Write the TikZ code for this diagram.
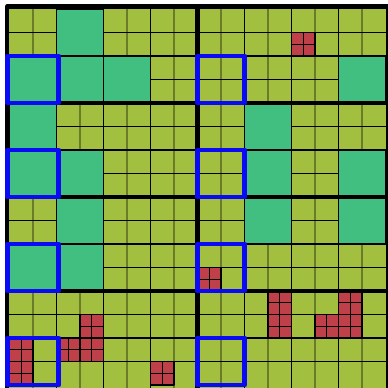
\documentclass[tikz,border=0pt]{standalone}
\usepackage{tikz}
\definecolor{grass}{RGB}{163,191,64}
\definecolor{lawn}{RGB}{64,191,128}
\definecolor{brick}{RGB}{191,64,72}
\definecolor{boxblue}{RGB}{10,10,245}

\begin{document}
\begin{tikzpicture}[x=0.5cm, y=0.5cm, line join=round,
    gridline/.style={black, line width=0.7pt},
    softline/.style={black, opacity=0.35, line width=1pt},
    panelrule/.style={black, line width=2.7pt},
    markbox/.style={boxblue, line width=3pt}]
  \useasboundingbox (-0.404,-0.085) rectangle (16.106,16.383);
  \fill[grass] (0,-0.2) rectangle (16,16);
  \foreach \x in {1,3,...,15} \draw[softline] (\x,-0.2) -- (\x,16);
  \foreach \y in {1,...,15} \draw[gridline] (0,\y) -- (16,\y);
  \foreach \x in {2,4,...,14} \draw[gridline] (\x,-0.2) -- (\x,16);
  % merged cells
  \foreach \x/\y in {2/14, 0/12, 2/12, 4/12, 14/12,
                     0/10, 0/8, 2/8, 10/10, 10/8, 14/8,
                     2/6, 0/4, 2/4, 10/6, 14/6}
    \filldraw[fill=lawn, draw=black, line width=0.7pt] (\x,\y) rectangle ++(2,2);
  % split cells
  \foreach \x/\y in {12/14, 8/4, 3/2, 2/1, 3/1, 0/1, 0/0, 6/0,
                     11/3, 11/2, 14/3, 14/2, 13/2} {
    \filldraw[fill=brick, draw=black, line width=0.7pt] (\x,\y) rectangle ++(1,1);
    \draw[gridline] (\x+0.5,\y) -- ++(0,1);
    \draw[gridline] (\x,\y+0.5) -- ++(1,0);
  }
  \draw[panelrule] (-0.1,-0.2) -- (-0.1,16.1) -- (16.1,16.1) -- (16.1,-0.2);
  \draw[panelrule] (8,-0.2) -- (8,16.1);
  \foreach \y in {4,8,12} \draw[panelrule] (-0.1,\y) -- (16.1,\y);
  \foreach \y in {0,4,8,12} {
    \draw[markbox] (-0.1,\y) rectangle ++(2.2,2);
    \draw[markbox] (8,\y) rectangle ++(2,2);
  }
\end{tikzpicture}
\end{document}
